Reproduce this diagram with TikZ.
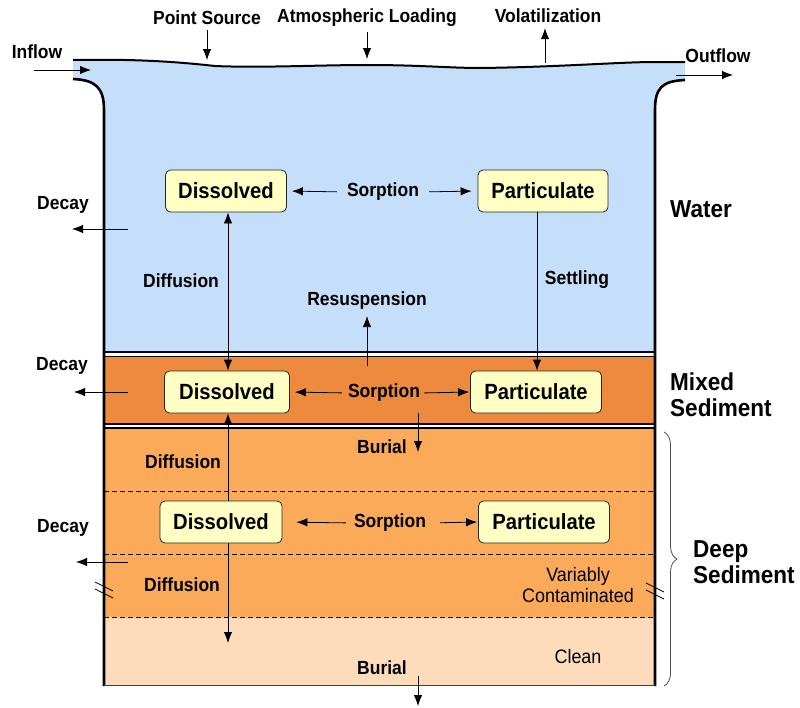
\documentclass[tikz,border=0pt]{standalone}
\usepackage{fontspec}
\setmainfont{Liberation Sans}
\newfontfamily\condsans[FakeStretch=0.92]{Liberation Sans}
\usetikzlibrary{arrows.meta,decorations.pathreplacing,calc}
\definecolor{water}{RGB}{197,223,250}
\definecolor{mixsed}{RGB}{238,138,62}
\definecolor{deepsed}{RGB}{251,170,90}
\definecolor{cleansed}{RGB}{253,220,188}
\definecolor{boxfill}{RGB}{255,255,196}
\begin{document}
\begin{tikzpicture}[x=1pt,y=-1pt,
  lbl/.style={font=\condsans\fontsize{19}{22}\selectfont\bfseries, inner sep=0pt},
  big/.style={font=\condsans\fontsize{24.5}{29}\selectfont\bfseries, inner sep=0pt, align=left, anchor=west},
  plain/.style={font=\condsans\fontsize{19.5}{23}\selectfont, inner sep=0pt, align=center},
  cbox/.style={draw=black!85, line width=0.8pt, fill=boxfill, rounded corners=5pt, font=\condsans\fontsize{22}{26}\selectfont\bfseries, minimum height=42pt, inner sep=0pt},
  arr/.style={-{Latex[length=11pt,width=8.5pt]}, line width=0.8pt},
  darr/.style={{Latex[length=11pt,width=8.5pt]}-{Latex[length=11pt,width=8.5pt]}, line width=0.8pt},
  wall/.style={line width=2.6pt},
  layer/.style={line width=1.3pt}]
\useasboundingbox (0,0) rectangle (800,707);

% ---------- fills ----------
\fill[water] (73,60) .. controls (130,59) and (170,61) .. (215,66)
  .. controls (260,68) and (320,65) .. (367,65)
  .. controls (420,65) and (450,68) .. (480,68)
  .. controls (560,67) and (620,62) .. (655,62) -- (685,62) -- (685,80)
  .. controls (662,81) and (655,88) .. (655,110) -- (655,352) -- (104,352) -- (104,110)
  .. controls (104,88) and (96,80) .. (73,79) -- cycle;
\fill[mixsed] (104,357) rectangle (655,424);
\fill[deepsed] (104,428) rectangle (655,617);
\fill[cleansed] (104,617) rectangle (655,685);

% ---------- outlines ----------
\draw[line width=2pt] (73,60) .. controls (130,59) and (170,61) .. (215,66)
  .. controls (260,68) and (320,65) .. (367,65)
  .. controls (420,65) and (450,68) .. (480,68)
  .. controls (560,67) and (620,62) .. (655,62) -- (685,62);
\draw[wall] (73,79) .. controls (96,80) and (104,88) .. (104,110) -- (104,686);
\draw[wall] (685,80) .. controls (662,81) and (655,88) .. (655,110) -- (655,686);
\draw[layer] (104,352) -- (655,352);
\draw[layer] (104,356.5) -- (655,356.5);
\draw[layer] (104,424) -- (655,424);
\draw[layer] (104,428) -- (655,428);
\draw[line width=1pt, black!75] (104,685) -- (655,685);
\draw[line width=1pt, dash pattern=on 5pt off 3pt] (104,491) -- (655,491);
\draw[line width=1pt, dash pattern=on 5pt off 3pt] (104,554) -- (655,554);
\draw[line width=1pt, dash pattern=on 5pt off 3pt] (104,617) -- (655,617);

% break marks
\draw[line width=0.8pt] (95,582) -- (113,591) (95,589) -- (113,598);
\draw[line width=0.8pt] (646,583) -- (664,592) (646,590) -- (664,599);

% ---------- top labels ----------
\node[lbl] (ps) at (207,18) {Point Source};
\node[lbl] (al) at (367,18) {Atmospheric Loading};
\node[lbl] (vol) at (548,16) {Volatilization};
\node[lbl] (inf) at (37,52) {Inflow};
\node[lbl] (outf) at (718,56) {Outflow};
\coordinate (psE) at (207,60);
\coordinate (alE) at (367,59);
\coordinate (volS) at (545,63);
\coordinate (inS) at (34,70);
\coordinate (inE) at (91,70);
\coordinate (outS) at (676,75);
\coordinate (outE) at (733,75);
\draw[arr, shorten <=5pt] (ps.south) -- (psE);
\draw[arr, shorten <=5pt] (al.south) -- (alE);
\draw[arr, shorten >=5pt] (volS) -- ([xshift=-3pt]vol.south);
\draw[arr] (inS) -- (inE);
\draw[arr] (outS) -- (outE);

% ---------- boxes (water + mixed) ----------
\node[cbox, minimum width=121pt] (wd) at (226,191) {Dissolved};
\node[cbox, minimum width=130pt] (wp) at (543,191) {Particulate};
\node[cbox, minimum width=125pt] (md) at (227,392) {Dissolved};
\node[cbox, minimum width=131pt] (mp) at (536,392) {Particulate};

% diffusion line through deep layer (behind deep box)
\coordinate (dEnd) at (228,643);
\draw[darr] ([xshift=1pt]md.south) -- (dEnd);

\node[cbox, minimum width=122pt] (dd) at (221,522) {Dissolved};
\node[cbox, minimum width=131pt] (dp) at (544,522) {Particulate};

% ---------- sorption ----------
\node[lbl] (ws) at (383,192) {Sorption};
\node[lbl] (ms) at (384,393) {Sorption};
\node[lbl] (ds) at (390,523) {Sorption};
\draw[arr, shorten <=10pt, shorten >=5pt] (ws.west) -- (wd.east);
\draw[arr, shorten <=10pt, shorten >=6pt] (ws.east) -- (wp.west);
\draw[arr, shorten <=6pt, shorten >=5pt] (ms.west) -- (md.east);
\draw[arr, shorten <=4pt, shorten >=1pt] (ms.east) -- (mp.west);
\draw[arr, shorten <=8pt, shorten >=14pt] (ds.west) -- (dd.east);
\draw[arr, shorten <=14pt, shorten >=1pt] (ds.east) -- (dp.west);

% ---------- vertical processes ----------
\draw[darr] ([xshift=2pt]wd.south) -- ([xshift=1pt]md.north);
\draw[arr] ([xshift=-6pt]wp.south) -- ([xshift=1pt]mp.north);
\node[lbl] (sett) at (577,280) {Settling};
\node[lbl] (difw) at (181,281) {Diffusion};
\node[lbl] (difm) at (183,462) {Diffusion};
\node[lbl] (difd) at (182,585) {Diffusion};

\node[lbl] (res) at (367,301) {Resuspension};
\coordinate (resS) at (367,366);
\draw[arr, shorten >=6pt] (resS) -- (res.south);

\node[lbl] (bur1) at (382,447) {Burial};
\coordinate (b1S) at (418,413);
\coordinate (b1E) at (418,452);
\draw[arr] (b1S) -- (b1E);
\node[lbl] (bur2) at (382,668) {Burial};
\coordinate (b2S) at (418,676);
\coordinate (b2E) at (418,706);
\draw[arr] (b2S) -- (b2E);

% ---------- decay ----------
\node[lbl] (decw) at (63,205) {Decay};
\node[lbl] (decm) at (62,366) {Decay};
\node[lbl] (decd) at (63,528) {Decay};
\coordinate (dw1) at (128,229); \coordinate (dw2) at (72,229);
\coordinate (dm1) at (128,392); \coordinate (dm2) at (74,392);
\coordinate (dd1) at (128,562); \coordinate (dd2) at (76,562);
\draw[arr] (dw1) -- (dw2);
\draw[arr] (dm1) -- (dm2);
\draw[arr] (dd1) -- (dd2);

% ---------- zone labels ----------
\node[plain] (varc) at (578,585) {Variably\\[-2pt]Contaminated};
\node[plain] (clean) at (578,657) {Clean};
\node[big] (wat) at (670,209) {Water};
\node[big] (mix) at (670,395) {Mixed\\[-3pt]Sediment};
\node[big] (deep) at (693,562) {Deep\\[-3pt]Sediment};
\draw[decorate, decoration={brace, amplitude=13pt}, black!70, line width=0.8pt] (664,432) -- (664,686);
\end{tikzpicture}
\end{document}
